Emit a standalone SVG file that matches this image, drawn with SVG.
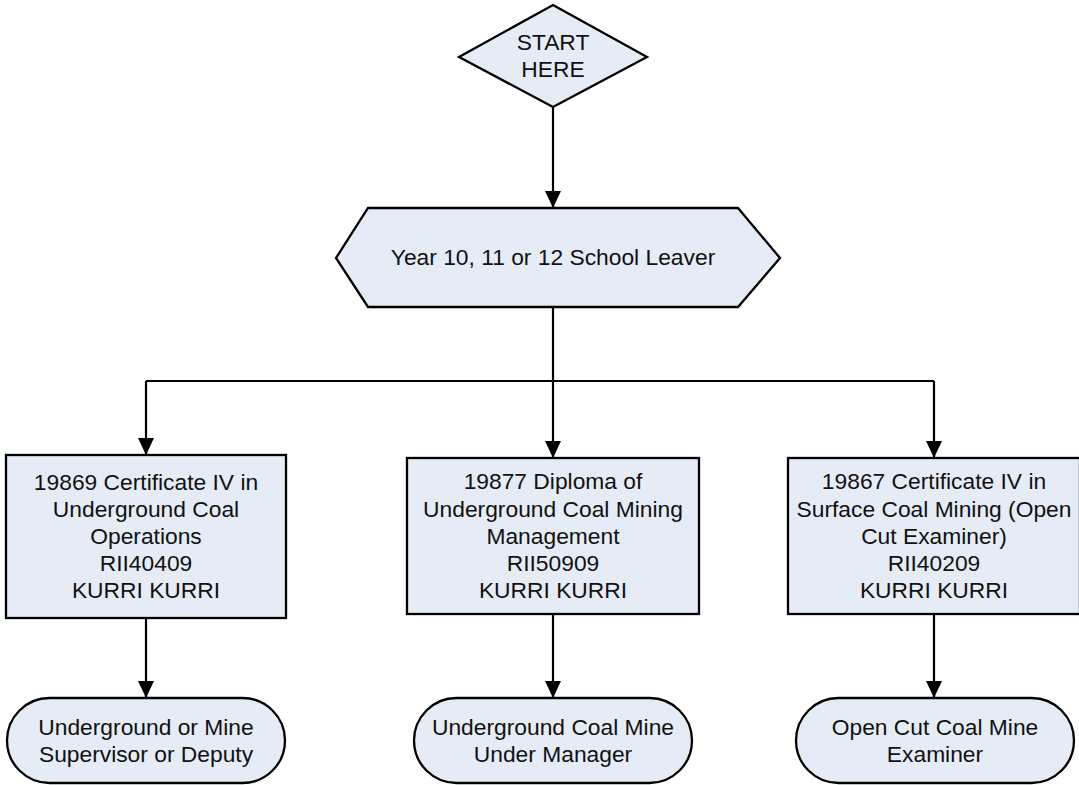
<svg xmlns="http://www.w3.org/2000/svg" width="1079" height="785" viewBox="0 0 1079 785">
<style>
.shape{fill:#e6ecf6;stroke:#000;stroke-width:2.3}
.t{font-family:"Liberation Sans",Arial,sans-serif;font-size:22.8px;fill:#111;text-anchor:middle}
.c{fill:none;stroke:#000;stroke-width:2.2}
</style>
<defs>
<marker id="arr" markerUnits="userSpaceOnUse" markerWidth="18" markerHeight="17" refX="17" refY="8" orient="auto">
<path d="M0,0 L17,8 L0,16 z" fill="#000"/>
</marker>
</defs>
<rect width="1079" height="785" fill="#fff"/>
<g id="connectors">
<path class="c" d="M553,107 V208" marker-end="url(#arr)"/>
<path class="c" d="M553,307 V458" marker-end="url(#arr)"/>
<path class="c" d="M146,381 H934"/>
<path class="c" d="M146,381 V455" marker-end="url(#arr)"/>
<path class="c" d="M934,381 V458" marker-end="url(#arr)"/>
<path class="c" d="M146,618 V698" marker-end="url(#arr)"/>
<path class="c" d="M553,614 V698" marker-end="url(#arr)"/>
<path class="c" d="M934,614 V698" marker-end="url(#arr)"/>
</g>
<g id="start">
<polygon class="shape" points="553,5 647,57 553,107 459,57"/>
<text class="t" x="553" y="50">START</text>
<text class="t" x="553" y="77">HERE</text>
</g>
<g id="leaver">
<polygon class="shape" points="368,208 738,208 780,258 738,307 368,307 336,258"/>
<text class="t" x="553" y="265">Year 10, 11 or 12 School Leaver</text>
</g>
<g id="cert19869">
<rect class="shape" x="6" y="455" width="280" height="163"/>
<text class="t" x="146" y="490">19869 Certificate IV in</text>
<text class="t" x="146" y="517">Underground Coal</text>
<text class="t" x="146" y="544">Operations</text>
<text class="t" x="146" y="571">RII40409</text>
<text class="t" x="146" y="598">KURRI KURRI</text>
</g>
<g id="dip19877">
<rect class="shape" x="407" y="458" width="292" height="156"/>
<text class="t" x="553" y="489">19877 Diploma of</text>
<text class="t" x="553" y="516.5">Underground Coal Mining</text>
<text class="t" x="553" y="543.5">Management</text>
<text class="t" x="553" y="570.5">RII50909</text>
<text class="t" x="553" y="597.5">KURRI KURRI</text>
</g>
<g id="cert19867">
<rect class="shape" x="788" y="458" width="292" height="156"/>
<text class="t" x="934" y="489">19867 Certificate IV in</text>
<text class="t" x="934" y="516.5">Surface Coal Mining (Open</text>
<text class="t" x="934" y="543.5">Cut Examiner)</text>
<text class="t" x="934" y="570.5">RII40209</text>
<text class="t" x="934" y="597.5">KURRI KURRI</text>
</g>
<g id="deputy">
<rect class="shape" x="7" y="698" width="278" height="85" rx="42.5" ry="42.5"/>
<text class="t" x="146" y="735">Underground or Mine</text>
<text class="t" x="146" y="762">Supervisor or Deputy</text>
</g>
<g id="undermanager">
<rect class="shape" x="414" y="698" width="278" height="85" rx="42.5" ry="42.5"/>
<text class="t" x="553" y="735">Underground Coal Mine</text>
<text class="t" x="553" y="762">Under Manager</text>
</g>
<g id="examiner">
<rect class="shape" x="796" y="698" width="278" height="85" rx="42.5" ry="42.5"/>
<text class="t" x="935" y="735">Open Cut Coal Mine</text>
<text class="t" x="935" y="762">Examiner</text>
</g>
</svg>
